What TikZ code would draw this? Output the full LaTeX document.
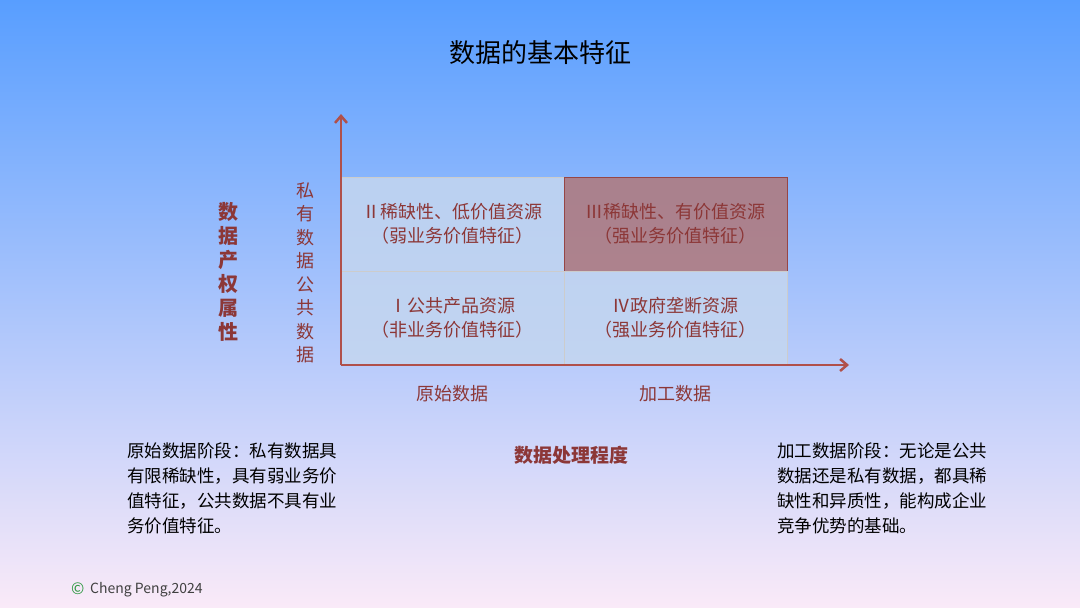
\documentclass[tikz,border=0pt]{standalone}
\usepackage{fontspec}
\usetikzlibrary{arrows.meta}
\setmainfont{Noto Sans CJK SC}
\definecolor{axred}{RGB}{176,80,74}
\definecolor{txtred}{RGB}{140,55,55}
\definecolor{cellfill}{RGB}{196,214,240}
\definecolor{hotfill}{RGB}{176,120,122}
\tikzset{
  cell/.style={draw=gray!40,fill=cellfill,fill opacity=0.85,text opacity=1,minimum width=223pt,minimum height=94pt,inner sep=0pt,text=txtred,font=\fontsize{18}{24}\selectfont,align=center},
  para/.style={anchor=north west,align=left,font=\fontsize{17.5}{25}\selectfont,inner sep=0pt},
  vert/.style={text width=20pt,align=center,font=\fontsize{18}{23.5}\selectfont,inner sep=0pt}
}
\begin{document}
\begin{tikzpicture}[x=1pt,y=-1pt]
\shade[top color={rgb,255:red,88;green,158;blue,255},middle color={rgb,255:red,175;green,208;blue,240},bottom color={rgb,255:red,250;green,234;blue,248}] (0,0) rectangle (1080,608);
\useasboundingbox (0,0) rectangle (1080,608);
\node (title) at (540,53) {\fontsize{26}{30}\selectfont 数据的基本特征};
\node[cell,anchor=north west] (c2) at (341,177) {Ⅱ稀缺性、低价值资源\\（弱业务价值特征）};
\node[cell,anchor=north west,fill=hotfill,draw={rgb,255:red,150;green,70;blue,70}] (c3) at (564,177) {Ⅲ稀缺性、有价值资源\\（强业务价值特征）};
\node[cell,anchor=north west] (c1) at (341,271) {Ⅰ公共产品资源\\（非业务价值特征）};
\node[cell,anchor=north west] (c4) at (564,271) {Ⅳ政府垄断资源\\（强业务价值特征）};
\coordinate (o) at (341,365);
\coordinate (ytop) at (341,114);
\coordinate (xend) at (849,365);
\draw[axred,line width=2.5pt,-{Straight Barb[length=7pt,width=12pt]}] (o) -- (ytop);
\draw[axred,line width=2.5pt,-{Straight Barb[length=7pt,width=12pt]}] (o) -- (xend);
\node[vert,text=txtred] (priv) at (305,226) {私\\有\\数\\据};
\node[vert,text=txtred] (pub) at (305,320) {公\\共\\数\\据};
\node[vert,text=txtred,font=\fontsize{20}{24}\selectfont\bfseries] (ylab) at (228,272) {数\\据\\产\\权\\属\\性};
\node[text=txtred,font=\fontsize{18}{24}\selectfont] (x1) at (452,394) {原始数据};
\node[text=txtred,font=\fontsize{18}{24}\selectfont] (x2) at (675,394) {加工数据};
\node[text=txtred,font=\fontsize{19}{24}\selectfont\bfseries] (xlab) at (571,455) {数据处理程度};
\node[para] (lp) at (127,442) {原始数据阶段：私有数据具\\有限稀缺性，具有弱业务价\\值特征，公共数据不具有业\\务价值特征。};
\node[para] (rp) at (777,442) {加工数据阶段：无论是公共\\数据还是私有数据，都具稀\\缺性和异质性，能构成企业\\竞争优势的基础。};
\node[anchor=west,inner sep=0pt,text={rgb,255:red,40;green,150;blue,60},font=\fontsize{16}{18}\selectfont] (cp) at (71,589) {©};
\node[anchor=west,inner sep=0pt,text=black!75,font=\fontsize{14}{18}\selectfont] (cn) at (90,590) {Cheng Peng,2024};
\end{tikzpicture}
\end{document}
